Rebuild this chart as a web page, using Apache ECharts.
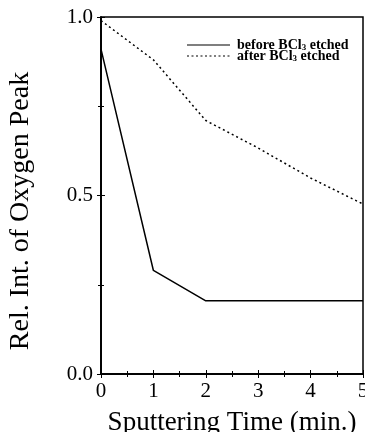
<!DOCTYPE html>
<html><head><meta charset="utf-8">
<script src="https://cdn.jsdelivr.net/npm/echarts@6/dist/echarts.min.js"></script>
<style>html,body{margin:0;padding:0;background:#fff}#c{width:365px;height:432px}</style>
</head><body><div id="c"></div>
<script>
var times = [0, 1, 2, 3, 4, 5];
var before = [0.91, 0.29, 0.205, 0.205, 0.205, 0.205];
var after = [0.99, 0.88, 0.71, 0.633, 0.549, 0.476];
var xTicks = ['0', '1', '2', '3', '4', '5'];
var yTicks = ['0.0', '0.5', '1.0'];
var seriesNames = ['before BCl{s|3} etched', 'after BCl{s|3} etched'];
var yTitle = 'Rel. Int. of Oxygen Peak';
var xTitle = 'Sputtering Time (min.)';

var font = 'Liberation Serif';
function pairs(xs, ys){ return xs.map(function(x,i){return [x, ys[i]];}); }
var chart = echarts.init(document.getElementById('c'));
var axisLineStyle = {color:'#000', width:1.5};
var legendRich = {s:{fontFamily:font, fontSize:9, fontWeight:'bold', padding:[5,0,0,0]}};
chart.setOption({
  animation:false,
  backgroundColor:'#fff',
  grid:{left:101, right:2, top:17, bottom:58, show:true, borderColor:'#000', borderWidth:1.5,
        containLabel:false, outerBoundsMode:'none'},
  graphic:[
    {type:'line', shape:{x1:187, y1:45, x2:230, y2:45}, style:{stroke:'#000', lineWidth:1.2}},
    {type:'line', shape:{x1:187, y1:56, x2:230, y2:56}, style:{stroke:'#000', lineWidth:1.2, lineDash:[2,2.5]}},
    {type:'text', x:237, y:45, style:{text:seriesNames[0], fontFamily:font, fontSize:14, fontWeight:'bold',
      fill:'#000', verticalAlign:'middle', rich:legendRich}},
    {type:'text', x:237, y:56, style:{text:seriesNames[1], fontFamily:font, fontSize:14, fontWeight:'bold',
      fill:'#000', verticalAlign:'middle', rich:legendRich}},
    {type:'text', x:21, y:211, rotation:Math.PI/2, style:{text:yTitle, fontFamily:font, fontSize:28,
      fill:'#000', align:'center', verticalAlign:'middle'}}
  ],
  xAxis:[{
    type:'value', min:0, max:5, interval:1, position:'bottom',
    axisLine:{lineStyle:axisLineStyle},
    axisTick:{inside:true, length:4, lineStyle:{color:'#000'}},
    minorTick:{show:true, splitNumber:2, length:3, lineStyle:{color:'#000'}},
    splitLine:{show:false},
    axisLabel:{fontFamily:font, fontSize:21, color:'#000', margin:7,
      formatter:function(v){return xTicks[Math.round(v)];}},
    name:xTitle, nameLocation:'middle', nameGap:35,
    nameTextStyle:{fontFamily:font, fontSize:27, color:'#000'}
  },{
    type:'value', min:0, max:5, interval:1, position:'top',
    axisLine:{lineStyle:axisLineStyle},
    axisTick:{inside:true, length:4, lineStyle:{color:'#000'}},
    minorTick:{show:true, splitNumber:2, length:3, lineStyle:{color:'#000'}},
    splitLine:{show:false}, axisLabel:{show:false}
  }],
  yAxis:[{
    type:'value', min:0, max:1, interval:0.5, position:'left',
    axisLine:{lineStyle:axisLineStyle},
    axisTick:{inside:true, length:4, lineStyle:{color:'#000'}},
    minorTick:{show:true, splitNumber:2, length:3, lineStyle:{color:'#000'}},
    splitLine:{show:false},
    axisLabel:{fontFamily:font, fontSize:21, color:'#000', margin:8, verticalAlign:'middle',
      formatter:function(v){return yTicks[Math.round(v*2)];}}
  },{
    type:'value', min:0, max:1, interval:0.5, position:'right',
    axisLine:{lineStyle:axisLineStyle},
    axisTick:{inside:true, length:4, lineStyle:{color:'#000'}},
    minorTick:{show:true, splitNumber:2, length:3, lineStyle:{color:'#000'}},
    splitLine:{show:false}, axisLabel:{show:false}
  }],
  series:[
    {name:'before', type:'line', symbol:'none', data:pairs(times, before),
     lineStyle:{color:'#000', width:1.5, type:'solid'}, itemStyle:{color:'#000'}},
    {name:'after', type:'line', symbol:'none', data:pairs(times, after),
     lineStyle:{color:'#000', width:1.5, type:[2,3]}, itemStyle:{color:'#000'}}
  ]
});
</script></body></html>
